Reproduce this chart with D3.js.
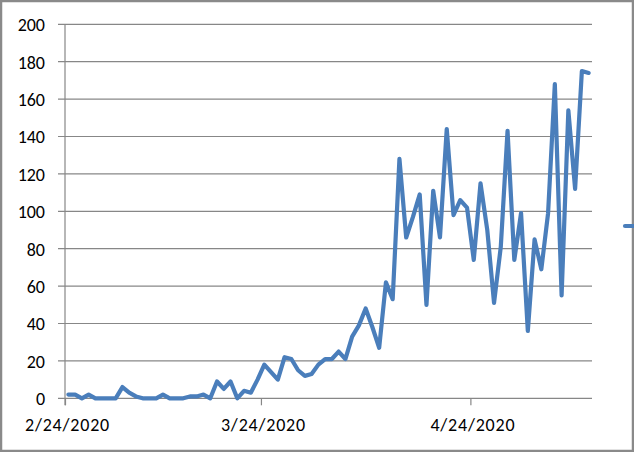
<!DOCTYPE html>
<html>
<head>
<meta charset="utf-8">
<script src="https://cdn.jsdelivr.net/npm/d3@7"></script>
<style>
  body { margin: 0; background: #fff; }
  svg { display: block; }
  .tick text { font-family: Calibri, "Liberation Sans", Arial, sans-serif; font-size: 18px; fill: #000; }
</style>
</head>
<body>
<svg id="chart" width="634" height="452"></svg>
<script>
// daily values starting 2/24/2020
var startDate = "2020-02-24"
var values = [2, 2, 0, 2, 0, 0, 0, 0, 6, 3,
  1, 0, 0, 0, 2, 0, 0, 0, 1, 1,
  2, 0, 9, 5, 9, 0, 4, 3, 10, 18,
  14, 10, 22, 21, 15, 12, 13, 18, 21, 21,
  25, 21, 33, 39, 48, 38, 27, 62, 53, 128,
  86, 97, 109, 50, 111, 86, 144, 98, 106, 102,
  74, 115, 90, 51, 81, 143, 74, 99, 36, 85,
  69, 99, 168, 55, 154, 112, 175, 174]
var xTickDates = ["2020-02-24", "2020-03-24", "2020-04-24"]
var yTicks = [0, 20, 40, 60, 80, 100, 120, 140, 160, 180, 200]

var parse = d3.timeParse("%Y-%m-%d")
var fmt = d3.timeFormat("%-m/%-d/%Y")
var day0 = parse(startDate)
var data = values.map((v, i) => ({ date: d3.timeDay.offset(day0, i), value: v }))

var svg = d3.select("#chart")

// outer chart border
svg.append("rect")
  .attr("x", 1).attr("y", 1)
  .attr("width", 632).attr("height", 450)
  .attr("fill", "#fff")
  .attr("stroke", "#8a8a8a")
  .attr("stroke-width", 2.5)

var plotLeft = 65, plotRight = 592, plotTop = 24.3, plotBottom = 398.3

var x = d3.scaleTime()
  .domain([day0, d3.timeDay.offset(day0, values.length)])
  .range([plotLeft, plotRight])

var y = d3.scaleLinear()
  .domain([0, 200])
  .range([plotBottom, plotTop])

// gridlines
svg.append("g")
  .selectAll("line")
  .data(yTicks)
  .enter().append("line")
  .attr("x1", plotLeft - 7)
  .attr("x2", plotRight)
  .attr("y1", d => y(d))
  .attr("y2", d => y(d))
  .attr("stroke", "#878787")
  .attr("stroke-width", 1.2)

// y axis
var yAxis = svg.append("g")
  .attr("transform", "translate(" + plotLeft + ",0)")
  .call(d3.axisLeft(y).tickValues(yTicks).tickSize(0).tickPadding(20))
yAxis.select(".domain").remove()
yAxis.selectAll("text").attr("dy", "0.36em")
svg.append("line")
  .attr("x1", plotLeft).attr("x2", plotLeft)
  .attr("y1", plotTop).attr("y2", plotBottom + 7)
  .attr("stroke", "#878787")
  .attr("stroke-width", 1.2)

// x axis
var xAxis = svg.append("g")
  .attr("transform", "translate(0," + plotBottom + ")")
  .call(d3.axisBottom(x)
    .tickValues(xTickDates.map(parse))
    .tickFormat(fmt)
    .tickSize(7)
    .tickSizeOuter(0)
    .tickPadding(13))
xAxis.select(".domain").remove()
xAxis.selectAll(".tick line").attr("stroke", "#878787").attr("stroke-width", 1.2)
xAxis.selectAll(".tick text").attr("dx", "2").style("letter-spacing", "0.8px")

// series line, points centred in each day
var line = d3.line()
  .x(d => x(d3.timeHour.offset(d.date, 12)))
  .y(d => y(d.value))

svg.append("path")
  .datum(data)
  .attr("fill", "none")
  .attr("stroke", "#4a7ebb")
  .attr("stroke-width", 4.2)
  .attr("stroke-linejoin", "round")
  .attr("stroke-linecap", "round")
  .attr("d", line)

// legend key (text falls outside the frame)
svg.append("line")
  .attr("x1", 625).attr("x2", 640)
  .attr("y1", 226).attr("y2", 226)
  .attr("stroke", "#4a7ebb")
  .attr("stroke-width", 4.2)
  .attr("stroke-linecap", "round")
</script>
</body>
</html>
